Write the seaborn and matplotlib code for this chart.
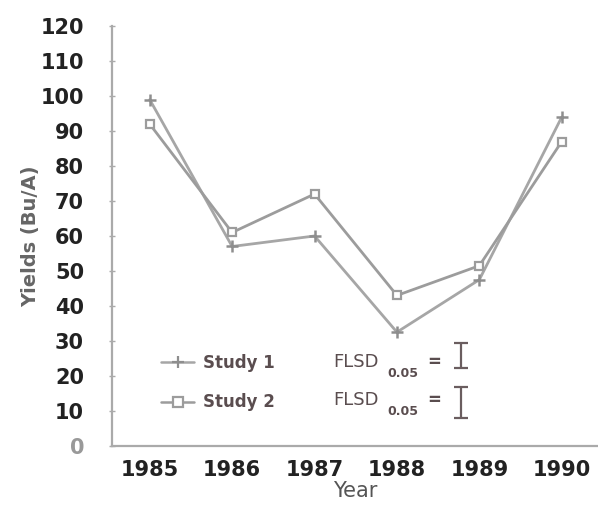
import seaborn as sns
import matplotlib.pyplot as plt
import pandas as pd
from matplotlib.lines import Line2D

years = [1985, 1986, 1987, 1988, 1989, 1990]
study1 = [99, 57, 60, 32.5, 47.5, 94]
study2 = [92, 61, 72, 43, 51.5, 87]
series_names = ["Study 1", "Study 2"]
flsd_values = [7.2, 9.0]
flsd_centers = [25.8, 12.4]
flsd_x = 1988.78
yticks = list(range(0, 121, 10))

df1 = pd.DataFrame({"Year": years, "Yield": study1})
df2 = pd.DataFrame({"Year": years, "Yield": study2})

sns.set_theme(style="ticks")
plt.rcParams['font.family'] = ['DejaVu Sans']

fig = plt.figure(figsize=(5.98, 5.13), dpi=100)
ax = fig.add_axes([0.187, 0.131, 0.813, 0.818])

col1 = "#a6a6a6"
col2 = "#9c9c9c"
sns.lineplot(data=df1, x="Year", y="Yield", color=col1, marker="+",
             linewidth=2.0, markersize=9, markeredgewidth=1.8,
             markeredgecolor="#8e8e8e", ax=ax)
sns.lineplot(data=df2, x="Year", y="Yield", color=col2, marker="s",
             linewidth=2.0, markersize=6, markeredgewidth=1.6,
             markerfacecolor="white", markeredgecolor=col2, ax=ax)

# FLSD bars
for c, v in zip(flsd_centers, flsd_values):
    ax.errorbar([flsd_x], [c], yerr=[v / 2], fmt="none", ecolor="#6a5d5f",
                elinewidth=1.6, capsize=5, capthick=1.6)

ax.set_xlim(1984.54, 1990.44)
ax.set_ylim(0, 120)
ax.set_xticks(years)
ax.set_yticks(yticks)
ax.set_xticklabels([str(y) for y in years], fontsize=15, fontweight="bold", color="#222222")
ax.set_yticklabels([str(t) for t in yticks], fontsize=15, fontweight="bold", color="#222222")
ax.get_yticklabels()[0].set_color("#999999")
ax.tick_params(axis="y", direction="inout", length=4, width=1, color="#aaaaaa", pad=18)
ax.tick_params(axis="x", length=0, pad=10)
for s in ["top", "right"]:
    ax.spines[s].set_visible(False)
for s in ["left", "bottom"]:
    ax.spines[s].set_color("#aaaaaa")
    ax.spines[s].set_linewidth(1.6)

ax.set_xlabel("Year", fontsize=15, color="#555555", labelpad=1)
ax.set_ylabel("Yields (Bu/A)", fontsize=14, color="#666666", fontweight="bold", labelpad=0)

handles = [
    Line2D([], [], color=col1, lw=1.8, marker="+", markersize=9, markeredgewidth=1.6,
           markeredgecolor="#8e8e8e"),
    Line2D([], [], color=col2, lw=1.8, marker="s", markersize=7, markeredgewidth=1.6,
           markerfacecolor="white"),
]
ax.legend(handles, series_names, loc="upper left", bbox_to_anchor=(0.07, 0.255),
          frameon=False, prop={"weight": "bold", "size": 12}, labelcolor="#5a4d4f",
          labelspacing=1.3, handlelength=2.0, handletextpad=0.5)

txt_col = "#5a4d4f"
for yf, ys in [(0.199, 0.172), (0.108, 0.082)]:
    ax.text(0.455, yf, "FLSD", transform=ax.transAxes, fontsize=13, color=txt_col,
            va="center", ha="left")
    ax.text(0.567, ys, "0.05", transform=ax.transAxes, fontsize=9, color=txt_col,
            va="center", ha="left", fontweight="bold")
    ax.text(0.648, yf, "=", transform=ax.transAxes, fontsize=12, color=txt_col,
            va="center", ha="left", fontweight="bold")

fig.savefig("out.png", dpi=100)
